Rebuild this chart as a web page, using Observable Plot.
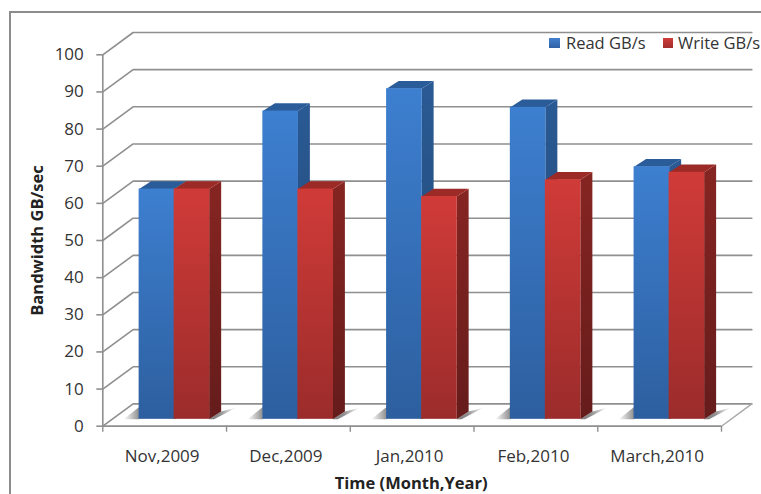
<!DOCTYPE html>
<html>
<head>
<meta charset="utf-8">
<script src="https://cdn.jsdelivr.net/npm/d3@7"></script>
<script src="https://cdn.jsdelivr.net/npm/@observablehq/plot@0.6"></script>
<style>
  html, body { margin: 0; background: #fff; overflow: hidden; }
  #stage { position: relative; width: 761px; height: 494px; overflow: hidden; font-family: "Open Sans", Lato, sans-serif; }
  #panel { position: absolute; left: 9px; top: 11px; width: 800px; height: 520px; border-left: 2px solid #8c8c8c; border-top: 2px solid #8c8c8c; pointer-events: none; }
  .key { position: absolute; top: 33px; font-size: 16.5px; line-height: 20px; color: #333; white-space: nowrap; }
  .swatch { position: absolute; width: 11px; height: 10px; top: 38px; }
</style>
</head>
<body>
<div id="stage">
  <div id="chart"></div>
  <div id="panel"></div>
  <div class="swatch" style="left:549px;background:linear-gradient(#4580cf,#2f62a5)"></div>
  <div class="key" style="left:566px">Read GB/s</div>
  <div class="swatch" style="left:663px;width:10px;background:linear-gradient(#d03c39,#a02f2e)"></div>
  <div class="key" style="left:678px">Write GB/s</div>
</div>
<script>
const months = ["Nov,2009", "Dec,2009", "Jan,2010", "Feb,2010", "March,2010"];
const readGBs = [62, 83, 89, 84, 68];
const writeGBs = [62, 62, 60, 64.5, 66.5];
const valueTicks = [0, 10, 20, 30, 40, 50, 60, 70, 80, 90, 100];

// Oblique projection, in scale units: one step along x is one month slot.
const wallDx = 0.245, wallDy = 6;        // front plane to back wall
const barInX = 0.0765, barInY = 1.85;    // front plane to the bars' front faces
const barDx = 0.097, barDy = 2.1;        // depth of a bar
const gap = 0.217, barW = 0.283;         // slot margin and single bar width

const poly = (id, pts) => pts.map(([x, y]) => ({id, x, y}));

const wallLines = valueTicks.flatMap((v) => [
  {id: v, x: 0, y: v},
  {id: v, x: wallDx, y: v + wallDy},
  {id: v, x: months.length + wallDx, y: v + wallDy}
]);
const floorEdge = [
  {x: months.length, y: 0},
  {x: months.length + wallDx, y: wallDy}
];

const bars = (values, offset) => values.map((v, i) => {
  const x1 = i + gap + barInX + offset * barW;
  return {x1, x2: x1 + barW, y1: barInY, y2: barInY + v, v};
});
const readBars = bars(readGBs, 0);
const writeBars = bars(writeGBs, 1);

const sideFaces = (rows) => rows.flatMap((b, i) => poly(i, [
  [b.x2, b.y1], [b.x2 + barDx, b.y1 + barDy], [b.x2 + barDx, b.y2 + barDy], [b.x2, b.y2]
]));
const topFaces = (rows) => rows.flatMap((b, i) => poly(i, [
  [b.x1, b.y2], [b.x1 + barDx, b.y2 + barDy], [b.x2 + barDx, b.y2 + barDy], [b.x2, b.y2]
]));

// Soft floor shadows on either side of each pair of bars.
const shadowRight = writeBars.flatMap((b, i) => poly(i, [
  [b.x2, b.y1], [b.x2 + barDx, b.y1 + barDy], [b.x2 + barDx + 0.12, b.y1 + barDy + 1], [b.x2 + 0.04, b.y1]
]));
const shadowLeft = readBars.flatMap((b, i) => poly(i, [
  [b.x1 - 0.125, b.y1], [b.x1, b.y1 + 3.3], [b.x1, b.y1]
]));

const gradient = (id, stops, horizontal) => `
  <linearGradient id="${id}" x1="0" y1="0" x2="${horizontal ? 1 : 0}" y2="${horizontal ? 0 : 1}">
    ${stops.map(([o, c]) => `<stop offset="${o}" stop-color="${c}"/>`).join("")}
  </linearGradient>`;

function defs() {
  const g = document.createElementNS("http://www.w3.org/2000/svg", "defs");
  g.innerHTML =
    gradient("readFront", [[0, "#3d7fd0"], [1, "#2d5f9f"]]) +
    gradient("readSide", [[0, "#2a5a94"], [1, "#1f4570"]]) +
    gradient("writeFront", [[0, "#d03b38"], [1, "#9b2c2b"]]) +
    gradient("writeSide", [[0, "#862522"], [1, "#651c1b"]]) +
    gradient("shadeR", [[0, "#7c7c7c"], [0.4, "#8e8e8e"], [1, "#ffffff"]], true) +
    gradient("shadeL", [[0, "#ffffff"], [1, "#8e8e8e"]], true);
  return g;
}

// Each front face runs a little past its right edge so no seam shows against the next face.
const seriesMarks = (rows, front, side, top) => [
  Plot.line(sideFaces(rows), {x: "x", y: "y", z: "id", fill: `url(#${side})`, stroke: "none"}),
  Plot.line(topFaces(rows), {x: "x", y: "y", z: "id", fill: top, stroke: "none"}),
  Plot.rect(rows, {x1: "x1", x2: "x2", y1: "y1", y2: "y2", fill: `url(#${front})`, insetRight: -0.6})
];

const chart = Plot.plot({
  width: 761,
  height: 494,
  marginLeft: 102.3,
  marginRight: 40,
  marginTop: 54.3,
  marginBottom: 68.3,
  style: {background: "transparent", fontFamily: "'Open Sans', Lato, sans-serif"},
  x: {type: "linear", domain: [0, months.length]},
  y: {type: "linear", domain: [0, 100]},
  marks: [
    defs,
    Plot.line(wallLines, {x: "x", y: "y", z: "id", stroke: "#8f8f8f", strokeWidth: 1.6, curve: "linear"}),
    Plot.line(floorEdge, {x: "x", y: "y", stroke: "#a8a8a8", strokeWidth: 1.4}),
    Plot.line(shadowRight, {x: "x", y: "y", z: "id", fill: "url(#shadeR)", stroke: "none"}),
    Plot.line(shadowLeft, {x: "x", y: "y", z: "id", fill: "url(#shadeL)", stroke: "none"}),
    ...seriesMarks(readBars, "readFront", "readSide", "#2b5c9a"),
    ...seriesMarks(writeBars, "writeFront", "writeSide", "#9c2a27"),
    Plot.ruleY([0], {stroke: "#8f8f8f", strokeWidth: 1.8}),
    Plot.ruleX([0], {y1: 0, y2: 100, stroke: "#8f8f8f", strokeWidth: 1.6}),
    Plot.axisY({
      ticks: valueTicks,
      tickSize: 6,
      tickPadding: 13,
      stroke: "#8f8f8f",
      strokeWidth: 1.6,
      fontSize: 17,
      color: "#333",
      label: "Bandwidth GB/sec",
      labelAnchor: "center",
      labelArrow: "none",
      labelOffset: 72
    }),
    Plot.axisX({
      ticks: d3.range(months.length + 1),
      tickSize: 6,
      stroke: "#8f8f8f",
      strokeWidth: 1.4,
      tickFormat: () => "",
      label: null
    }),
    Plot.axisX({
      ticks: months.map((m, i) => i + 0.5),
      tickSize: 0,
      tickPadding: 24,
      fontSize: 17,
      dx: -2.5,
      color: "#333",
      tickFormat: (d) => months[Math.floor(d)],
      label: null
    }),
    Plot.text(["Time (Month,Year)"], {
      frameAnchor: "bottom",
      dy: 63,
      dx: -1,
      fontSize: 16.5,
      fontWeight: "bold",
      fill: "#222"
    })
  ]
});

d3.select(chart).selectAll('[aria-label="y-axis label"] text').style("font-size", "16.5px").style("font-weight", "bold").style("fill", "#222");
document.getElementById("chart").appendChild(chart);
</script>
</body>
</html>
